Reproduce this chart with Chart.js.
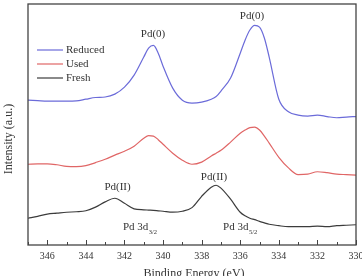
<!DOCTYPE html>
<html>
<head>
<meta charset="utf-8">
<script src="https://cdn.jsdelivr.net/npm/chart.js@4.4.0/dist/chart.umd.min.js"></script>
<style>
    html, body { margin: 0; padding: 0; background: #ffffff; }
    #wrap { width: 362px; height: 276px; position: relative; }
</style>
</head>
<body>
<div id="wrap"><canvas id="xps-chart"></canvas></div>
<script>
// Binding energy (eV) and intensities (a.u.)
const energies = [347, 346.5, 346, 345.5, 345, 344.5, 344, 343.5, 343, 342.5, 342, 341.5, 341, 340.75, 340.5, 340.25, 340, 339.5, 339, 338.5, 338, 337.5, 337.25, 337, 336.5, 336, 335.75, 335.5, 335.25, 335, 334.75, 334.5, 334, 333.5, 333, 332.5, 332, 331.5, 331, 330.5, 330];
const reduced = [60.1, 59.9, 59.7, 59.7, 59.7, 59.8, 60.5, 61.2, 61.4, 62.6, 65.5, 70.5, 78.0, 81.7, 82.8, 79.6, 74.2, 65.1, 60.1, 58.9, 59.3, 60.5, 61.6, 63.9, 69.3, 79.6, 85.0, 89.2, 91.1, 90.4, 85.9, 78.0, 60.5, 55.3, 53.9, 53.5, 53.9, 53.3, 52.8, 53.1, 53.3];
const used = [33.5, 33.7, 33.7, 33.3, 32.6, 32.5, 32.9, 34.2, 35.6, 37.3, 38.9, 41.0, 44.3, 45.4, 45.2, 43.7, 41.8, 38.1, 35.2, 33.5, 34.4, 36.9, 38.1, 39.3, 42.7, 46.4, 47.7, 48.7, 48.9, 47.7, 45.2, 42.3, 36.4, 32.0, 29.2, 29.4, 30.4, 30.0, 29.4, 29.2, 29.0];
const fresh = [11.1, 11.9, 12.8, 13.2, 13.6, 13.8, 14.2, 15.7, 17.9, 19.4, 17.3, 15.0, 14.6, 14.5, 14.4, 14.2, 14.0, 13.6, 14.0, 15.5, 20.2, 24.0, 24.8, 23.6, 19.0, 13.6, 12.1, 11.1, 10.5, 9.8, 9.2, 8.6, 8.0, 7.6, 7.6, 7.6, 7.8, 7.6, 8.0, 8.2, 8.4];

const seriesNames = ['Reduced', 'Used', 'Fresh'];
const seriesColors = ['#6b6bd9', '#e06666', '#3c3c3c'];
const tickValues = [346, 344, 342, 340, 338, 336, 334, 332, 330];

// peak labels: text, subscript, energy, intensity
const peakLabels = [
    ['Pd(0)', '', 340.52, 87.5],
    ['Pd(0)', '', 335.39, 95.0],
    ['Pd(II)', '', 342.36, 24.0],
    ['Pd(II)', '', 337.36, 28.1],
    ['Pd 3d', '3/2', 342.08, 7.4],
    ['Pd 3d', '5/2', 336.89, 7.4]
];

const FONT = "'Liberation Serif', 'DejaVu Serif', serif";

function toPoints(ys) {
    return energies.map((e, i) => ({ x: e, y: ys[i] }));
}

// Frame, inward ticks, legend, labels
const decorPlugin = {
    id: 'decor',
    afterDraw(chart) {
        const ctx = chart.ctx;
        const area = chart.chartArea;
        const xs = chart.scales.x;
        const ys = chart.scales.y;
        ctx.save();

        // frame
        ctx.strokeStyle = '#444444';
        ctx.lineWidth = 1.3;
        ctx.strokeRect(area.left, area.top, area.right - area.left, area.bottom - area.top);

        // inward tick marks on bottom axis
        ctx.lineWidth = 1;
        for (let e = 330; e <= 347; e++) {
            const px = Math.round(xs.getPixelForValue(e)) + 0.5;
            const len = (e % 2 === 0) ? 5 : 3;
            ctx.beginPath();
            ctx.moveTo(px, area.bottom);
            ctx.lineTo(px, area.bottom - len);
            ctx.stroke();
        }

        // legend
        ctx.font = '11px ' + FONT;
        ctx.textBaseline = 'middle';
        ctx.textAlign = 'left';
        chart.data.datasets.forEach((ds, i) => {
            const ly = 50 + i * 14;
            ctx.strokeStyle = ds.borderColor;
            ctx.lineWidth = 1.2;
            ctx.beginPath();
            ctx.moveTo(37, ly);
            ctx.lineTo(63, ly);
            ctx.stroke();
            ctx.fillStyle = '#333333';
            ctx.fillText(ds.label, 66, ly);
        });

        // peak labels
        ctx.fillStyle = '#333333';
        peakLabels.forEach(([text, sub, e, v]) => {
            const px = xs.getPixelForValue(e);
            const py = ys.getPixelForValue(v);
            ctx.font = '11px ' + FONT;
            if (sub) {
                ctx.textAlign = 'left';
                ctx.fillText(text, px, py);
                const w = ctx.measureText(text).width;
                ctx.font = '6.5px ' + FONT;
                ctx.fillText(sub, px + w + 0.5, py + 5);
            } else {
                ctx.textAlign = 'center';
                ctx.fillText(text, px, py);
            }
        });

        // axis titles
        ctx.font = '12px ' + FONT;
        ctx.textAlign = 'center';
        ctx.fillText('Binding Energy (eV)', (area.left + area.right) / 2 + 2, 274);
        ctx.translate(9, 139);
        ctx.rotate(-Math.PI / 2);
        ctx.fillText('Intensity (a.u.)', 0, 0);
        ctx.restore();
    }
};

const ctx = document.getElementById('xps-chart').getContext('2d');

const xpsChart = new Chart(ctx, {
    type: 'line',
    data: {
        datasets: seriesNames.map((name, i) => ({
            label: name,
            data: toPoints([reduced, used, fresh][i]),
            borderColor: seriesColors[i],
            borderWidth: 1.2,
            pointRadius: 0,
            fill: false,
            cubicInterpolationMode: 'monotone'
        }))
    },
    options: {
        responsive: true,
        maintainAspectRatio: false,
        animation: false,
        layout: { padding: { top: 4, right: 6, left: 28, bottom: 0 } },
        plugins: {
            legend: { display: false },
            tooltip: { enabled: false }
        },
        scales: {
            x: {
                type: 'linear',
                min: 330,
                max: 347,
                reverse: true,
                grid: { display: false, drawTicks: false },
                border: { display: false },
                afterBuildTicks: (scale) => {
                    scale.ticks = tickValues.map(v => ({ value: v }));
                },
                afterFit: (scale) => {
                    scale.height = 31;
                    scale.paddingLeft = 0;
                    scale.paddingRight = 0;
                },
                ticks: {
                    autoSkip: false,
                    maxRotation: 0,
                    padding: 5,
                    color: '#333333',
                    font: { family: FONT, size: 10 }
                }
            },
            y: {
                display: false,
                min: 0,
                max: 100
            }
        }
    },
    plugins: [decorPlugin]
});
</script>
</body>
</html>
